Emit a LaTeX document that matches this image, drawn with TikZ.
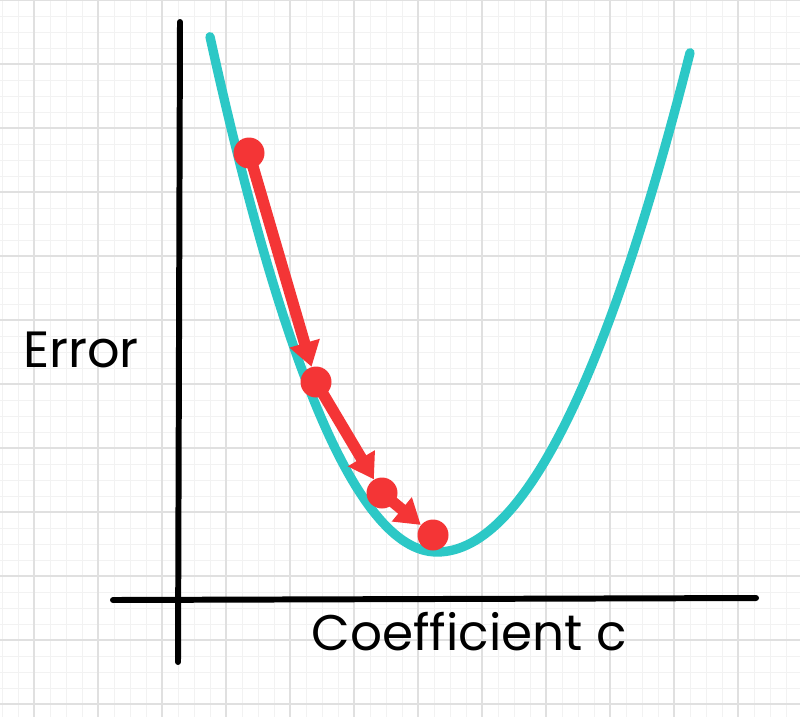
\documentclass[tikz,border=0pt]{standalone}
\usepackage{fontspec}
\setmainfont{Poppins}
\usetikzlibrary{arrows.meta}
\definecolor{curvecyan}{HTML}{2CC8C6}
\definecolor{stepred}{HTML}{F43536}
\tikzset{
  dot/.style={circle,fill=stepred,inner sep=0pt,minimum size=.62cm},
  steparrow/.style={stepred,line width=6.5pt,-{Triangle[length=14pt,width=17pt]},shorten <=-4pt},
  axisline/.style={line width=3.4pt,line cap=round}
}
\begin{document}
\begin{tikzpicture}[x=.02cm,y=-.02cm]
\useasboundingbox (0,0) rectangle (800,717);
\fill[white] (0,0) rectangle (800,717);
% grid
\foreach \k in {0,...,49} {
  \draw[black!5,line width=.5pt] ({2+16*\k},0)--({2+16*\k},717);
  \draw[black!5,line width=.5pt] (0,{16*\k})--(800,{16*\k});
}
\foreach \k in {0,...,12} {
  \draw[black!12,line width=.6pt] ({34+64*\k},0)--({34+64*\k},717);
  \draw[black!12,line width=.6pt] (0,{64*\k})--(800,{64*\k});
}
% axes
\draw[axisline] (180,22)--(178,662);
\draw[axisline] (113,600)--(756,598);
\node[font=\fontsize{29}{30}\selectfont] (ylab) at (81,350) {Error};
\node[font=\fontsize{28.5}{30}\selectfont] (xlab) at (469,632) {Coefficient c};
% error curve
\draw[curvecyan,line width=5.3pt,line cap=round,line join=round]
  plot[domain=210:437,samples=60] (\x,{552-100*((\x-437)/100)^2})
  -- plot[domain=437:690,samples=60] (\x,{552-78*((\x-437)/100)^2});
% gradient steps
\node[dot] (d1) at (249,153) {};
\node[dot] (d2) at (316,382) {};
\node[dot] (d3) at (382,493) {};
\node[dot] (d4) at (433,535) {};
\draw[steparrow] (d1) -- (d2);
\draw[steparrow] (d2) -- (d3);
\draw[steparrow] (d3) -- (d4);
\end{tikzpicture}
\end{document}
